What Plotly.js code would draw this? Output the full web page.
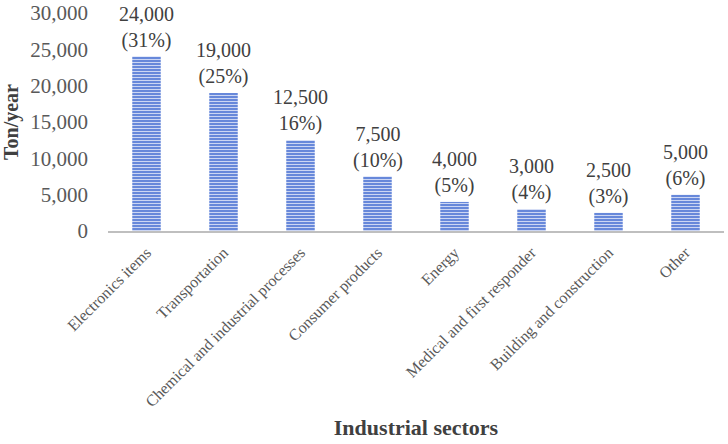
<!DOCTYPE html>
<html>
<head>
<meta charset="utf-8">
<script src="https://cdn.plot.ly/plotly-3.0.1.min.js"></script>
<style>html,body{margin:0;padding:0;background:#fff;}#chart{width:728px;height:444px;}</style>
</head>
<body>
<div id="chart"></div>
<script>
const sectors = ["Electronics items", "Transportation", "Chemical and industrial processes", "Consumer products", "Energy", "Medical and first responder", "Building and construction", "Other"];
const tonsPerYear = [24000, 19000, 12500, 7500, 4000, 3000, 2500, 5000];
const barLabels = ["24,000<br>(31%)", "19,000<br>(25%)", "12,500<br>16%)", "7,500<br>(10%)", "4,000<br>(5%)", "3,000<br>(4%)", "2,500<br>(3%)", "5,000<br>(6%)"];
const yTickVals = [0, 5000, 10000, 15000, 20000, 25000, 30000];
const yTickText = ["0", "5,000", "10,000", "15,000", "20,000", "25,000", "30,000"];

const serif = "Liberation Serif, Times New Roman, serif";

const trace = {
  type: "bar",
  x: sectors,
  y: tonsPerYear,
  cliponaxis: false,
  hoverinfo: "none",
  marker: {
    color: "#5c80d8",
    line: {width: 0},
    pattern: {shape: "-", fgcolor: "#ccd6f3", bgcolor: "#5c80d8", size: 3, solidity: 0.4}
  }
};

const labelAnnotations = sectors.map((s, i) => ({
  x: s,
  y: tonsPerYear[i],
  xref: "x",
  yref: "y",
  text: barLabels[i],
  showarrow: false,
  xanchor: "center",
  yanchor: "bottom",
  yshift: 4,
  borderpad: 0,
  font: {family: serif, size: 20, color: "#404040"}
}));

const layout = {
  width: 728,
  height: 444,
  margin: {l: 108, r: 4, t: 13, b: 213},
  paper_bgcolor: "#fff",
  plot_bgcolor: "#fff",
  bargap: 0.63,
  showlegend: false,
  annotations: labelAnnotations,
  xaxis: {
    type: "category",
    tickangle: -45,
    tickfont: {family: serif, size: 16, color: "#595959"},
    showline: true,
    linecolor: "#bfbfbf",
    linewidth: 2,
    ticks: "",
    ticklabelstandoff: 4,
    showgrid: false,
    automargin: false,
    title: {text: "<b>Industrial sectors</b>", font: {family: serif, size: 22, color: "#404040"}, standoff: 10}
  },
  yaxis: {
    range: [0, 30000],
    tickvals: yTickVals,
    ticktext: yTickText,
    tickfont: {family: serif, size: 21, color: "#595959"},
    showgrid: false,
    zeroline: false,
    showline: false,
    ticks: "",
    ticklabelstandoff: 19,
    automargin: false,
    title: {text: "<b>Ton/year</b>", font: {family: serif, size: 20, color: "#404040"}, standoff: 10}
  }
};

Plotly.newPlot("chart", [trace], layout, {displayModeBar: false, staticPlot: true});
</script>
</body>
</html>
